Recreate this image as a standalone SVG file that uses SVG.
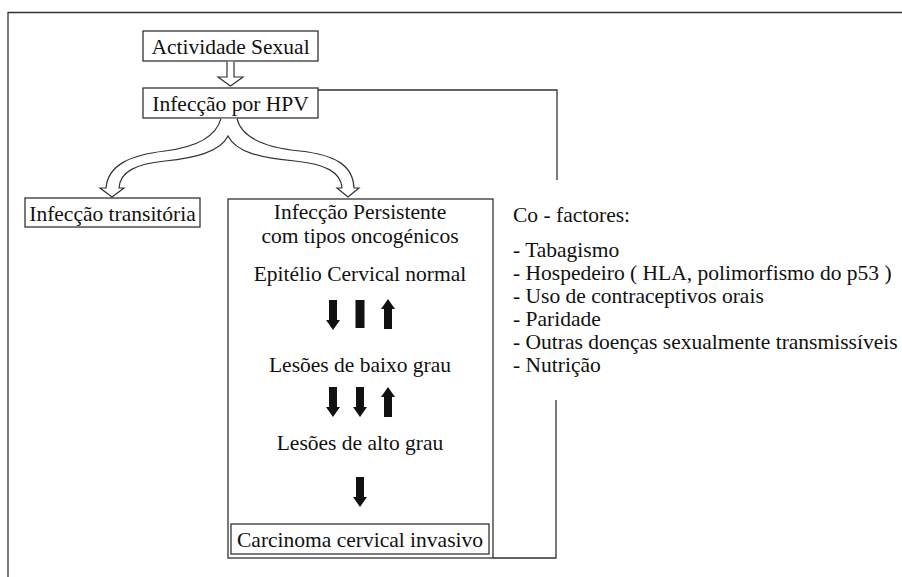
<svg xmlns="http://www.w3.org/2000/svg" width="902" height="577" viewBox="0 0 902 577">
<style>
.t{font-family:"Liberation Serif","Times New Roman",serif;font-size:21.5px;fill:#111}
.c{text-anchor:middle}
.box{fill:#fff;stroke:#333;stroke-width:1.3}
.ln{fill:none;stroke:#333;stroke-width:1.3}
.ha{fill:#fff;stroke:#333;stroke-width:1.2;stroke-linejoin:miter}
.sa{fill:#111}
</style>
<defs>
<path id="dn" d="M-4,0 H4 V20 H7 L0,30 L-7,20 H-4 Z"/>
<path id="up" d="M-4,30 H4 V10 H7 L0,0 L-7,10 H-4 Z"/>
</defs>
<rect width="902" height="577" fill="#fff"/>
<g id="frame">
<path class="ln" d="M8,577 V12.5 H902"/>
</g>
<g id="n-actividade">
<rect class="box" x="143" y="31" width="175" height="30"/>
<text class="t c" x="230.5" y="53.5">Actividade Sexual</text>
</g>
<g id="n-hpv">
<rect class="box" x="143" y="88" width="175" height="30"/>
<text class="t c" x="230.5" y="110.5">Infecção por HPV</text>
</g>
<g id="n-transitoria">
<rect class="box" x="25" y="198" width="175" height="29"/>
<text class="t c" x="112.5" y="220.5">Infecção transitória</text>
</g>
<g id="n-persistente">
<rect class="box" x="228" y="199" width="265" height="359"/>
<text class="t c" x="360" y="219">Infecção Persistente</text>
<text class="t c" x="360" y="243">com tipos oncogénicos</text>
<text class="t c" x="360" y="281">Epitélio Cervical normal</text>
<text class="t c" x="360" y="372">Lesões de baixo grau</text>
<text class="t c" x="360" y="450">Lesões de alto grau</text>
</g>
<g id="n-carcinoma">
<rect class="box" x="231" y="524" width="258" height="30"/>
<text class="t c" x="360" y="546.5">Carcinoma cervical invasivo</text>
</g>
<g id="n-cofactores">
<text class="t" x="513" y="222">Co - factores:</text>
<text class="t" x="513" y="257">- Tabagismo</text>
<text class="t" x="513" y="280">- Hospedeiro ( HLA, polimorfismo do p53 )</text>
<text class="t" x="513" y="303">- Uso de contraceptivos orais</text>
<text class="t" x="513" y="326">- Paridade</text>
<text class="t" x="513" y="349">- Outras doenças sexualmente transmissíveis</text>
<text class="t" x="513" y="372">- Nutrição</text>
</g>
<g id="connectors">
<path class="ha" d="M227,61.7 V77 H218 L230.5,86 L243,77 H234 V61.7"/>
<path class="ha" d="M221,118.7 C215,140 190,148 165,151 C130,155 108,165 106,188 L100,188 L112,197 L124,188 L119,188 C120,172 135,164 165,161 C195,158 220,152 228,136 C236,152 260,158 295,161 C325,164 341,172 342,188 L337,188 L348,197 L359,188 L354,188 C353,165 335,155 300,151 C270,148 242,140 237,118.7"/>
<path class="ln" d="M318,90 H557 V180"/>
<path class="ln" d="M493,558 H556 V400"/>
<use href="#dn" x="333" y="300" class="sa"/>
<rect x="355.5" y="300" width="9" height="28" class="sa"/>
<use href="#up" x="388" y="299" class="sa"/>
<use href="#dn" x="333" y="387" class="sa"/>
<use href="#dn" x="360" y="387" class="sa"/>
<use href="#up" x="388" y="387" class="sa"/>
<use href="#dn" x="360" y="477" class="sa"/>
</g>
</svg>
